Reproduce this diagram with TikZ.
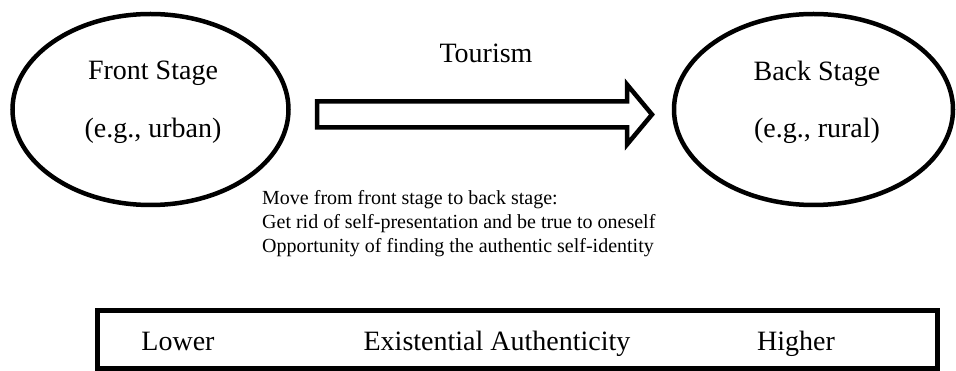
\documentclass[tikz,border=0pt]{standalone}
\usepackage{fontspec}
\setmainfont{Liberation Serif}
\usetikzlibrary{shapes.geometric}

\begin{document}
\begin{tikzpicture}[
        x=1pt, y=-1pt,
        every node/.style={font=\fontsize{28}{34}\selectfont, inner sep=0pt},
        stage/.style={ellipse, draw=black, line width=4.5pt, minimum height=191pt},
        word/.style={anchor=base},
        note/.style={font=\fontsize{20}{24}\selectfont, align=left, anchor=base west},
        bigarrow/.style={draw=black, line width=4.5pt, line join=miter},
        scalebar/.style={rectangle, draw=black, line width=5pt, minimum width=840pt, minimum height=58pt}
        ]
        \useasboundingbox (0,0) rectangle (956,371);

        % The two stages
        \node[stage, minimum width=276pt] (front) at (150.5,109.5) {};
        \node[stage, minimum width=279pt] (back) at (813.5,109.5) {};

        \node[word] (frontname) at (153,80) {Front Stage};
        \node[word] (frontex) at (153,138) {(e.g., urban)};
        \node[word] (backname) at (817,81) {Back Stage};
        \node[word] (backex) at (817,138) {(e.g., rural)};

        % Hollow arrow between them
        \draw[bigarrow] (317,101.5) -- (627,101.5) -- (627,84.5) -- (652,114.5)
            -- (627,144.5) -- (627,127.5) -- (317,127.5) -- cycle;
        \node[word] (tourism) at (486,63) {Tourism};

        % What the move means (anchored on the last line)
        \node[note] (move) at (262,253) {Move from front stage to back stage:\\
            Get rid of self-presentation and be true to oneself\\
            Opportunity of finding the authentic self-identity};

        % Scale along the bottom
        \node[scalebar] (scale) at (517.5,339.5) {};
        \node[word] (lower) at (178,350) {Lower};
        \node[word] (exist) at (497,350) {Existential Authenticity};
        \node[word] (higher) at (796,350) {Higher};

    \end{tikzpicture}
\end{document}
